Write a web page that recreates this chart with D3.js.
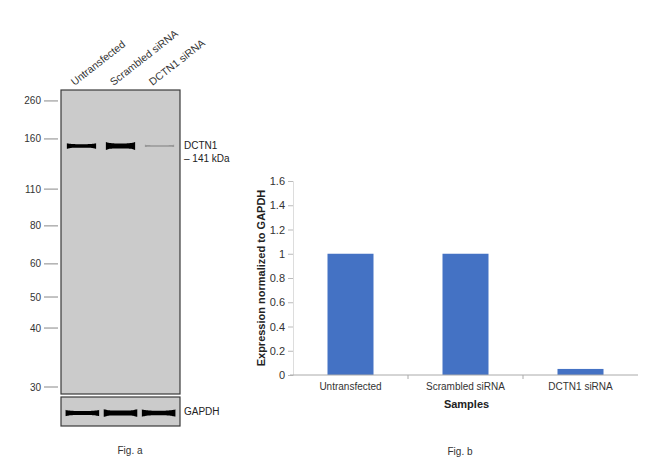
<!DOCTYPE html>
<html><head><meta charset="utf-8">
<script src="https://cdn.jsdelivr.net/npm/d3@7/dist/d3.min.js"></script>
<style>body{margin:0;background:#fff}svg{display:block}text{font-family:"Liberation Sans",Arial,sans-serif}</style>
</head><body><svg id="c" width="650" height="475"></svg>
<script>
// ---- Fig. a (western blot) data ----
const lanes = ["Untransfected", "Scrambled siRNA", "DCTN1 siRNA"];
const markerKDa = [260, 160, 110, 80, 60, 50, 40, 30];
const markerRf = [0.036, 0.161, 0.326, 0.447, 0.572, 0.681, 0.783, 0.977]; // migration fraction
const dctn1Rf = 0.184;
const dctn1Intensity = [0.6, 0.95, 0.12];
const gapdhIntensity = [0.7, 0.9, 0.85];
// ---- Fig. b (bar chart) data ----
const samples = ["Untransfected", "Scrambled siRNA", "DCTN1 siRNA"];
const expression = [1.0, 1.0, 0.05];
const yTicks = [0, 0.2, 0.4, 0.6, 0.8, 1, 1.2, 1.4, 1.6];
const yTickLabels = ["0", "0.2", "0.4", "0.6", "0.8", "1", "1.2", "1.4", "1.6"];

const svg = d3.select("#c");
const defs = svg.append("defs");
defs.append("filter").attr("id","blur").append("feGaussianBlur").attr("stdDeviation",0.5);

// ===== Blot =====
const bx0 = 61, bx1 = 180, by0 = 90, by1 = 394, gy0 = 397, gy1 = 426;
const lane = d3.scaleBand().domain(lanes).range([bx0, bx1]).paddingInner(0.25).paddingOuter(0.15);
const laneG = d3.scaleBand().domain(lanes).range([bx0, bx1]).paddingInner(0.12).paddingOuter(0.12);
const rf = d3.scaleLinear().domain([0, 1]).range([by0, by1]);
const inten = d3.scaleLinear().domain([0, 1]).range([1.2, 7]);
const shade = d3.scaleLinear().domain([0, 0.2, 0.45]).range(["#c9c9c9", "#777", "#000"]).clamp(true);

svg.append("rect").attr("x", bx0).attr("y", by0).attr("width", bx1 - bx0).attr("height", by1 - by0)
  .attr("fill", "#cbcbcb").attr("stroke", "#3a3a3a").attr("stroke-width", 1.2);
svg.append("rect").attr("x", bx0).attr("y", gy0).attr("width", bx1 - bx0).attr("height", gy1 - gy0)
  .attr("fill", "#cbcbcb").attr("stroke", "#3a3a3a").attr("stroke-width", 1.2);

// markers
const mk = svg.append("g");
markerKDa.forEach((k, i) => {
  const yy = rf(markerRf[i]);
  mk.append("line").attr("x1", 44).attr("x2", 58).attr("y1", yy).attr("y2", yy).attr("stroke", "#888").attr("stroke-width", 1);
  mk.append("text").attr("x", 41).attr("y", yy).attr("dy", "0.35em").attr("text-anchor", "end")
    .attr("font-size", 10).attr("fill", "#333").text(k);
});

// bands (thicker ends, like the blot)
function band(sc, i, cy, val, g) {
  const x0 = sc(lanes[i]), w = sc.bandwidth();
  const h = inten(val);
  const pts = d3.range(0, 1.0001, 0.05);
  const prof = t => h * (0.75 + 0.45 * Math.pow(Math.abs(2 * t - 1), 4)) / 2;
  const area = d3.area().x(t => x0 + t * w).y0(t => cy - prof(t)).y1(t => cy + prof(t)).curve(d3.curveBasis);
  g.append("path").attr("d", area(pts)).attr("fill", shade(val)).attr("filter", "url(#blur)");
}
const bg = svg.append("g");
const dy = rf(dctn1Rf);
dctn1Intensity.forEach((v, i) => band(lane, i, dy, v, bg));
const gy = (gy0 + gy1) / 2 + 1.5;
gapdhIntensity.forEach((v, i) => band(laneG, i, gy, v, bg));

// lane labels
lanes.forEach((l, i) => {
  const x = lane(l) + lane.bandwidth() / 2 - 7;
  svg.append("text").attr("transform", `translate(${x},86) rotate(-38)`)
    .attr("font-size", 10.5).attr("fill", "#333").text(l);
});
svg.append("text").attr("x", 184).attr("y", dy + 3).attr("font-size", 10).attr("fill", "#222").text("DCTN1");
svg.append("text").attr("x", 184).attr("y", dy + 16).attr("font-size", 10).attr("fill", "#222").text("– 141 kDa");
svg.append("text").attr("x", 184).attr("y", gy + 2).attr("font-size", 10).attr("fill", "#222").text("GAPDH");
svg.append("text").attr("x", 130).attr("y", 454).attr("text-anchor", "middle").attr("font-size", 10).attr("fill", "#333").text("Fig. a");

// ===== Bar chart =====
const px0 = 293, px1 = 638, py0 = 375, py1 = 181;
const x = d3.scaleBand().domain(samples).range([px0, px1]).paddingInner(0.6).paddingOuter(0.3);
const y = d3.scaleLinear().domain([0, 1.6]).range([py0, py1]);

const ya = svg.append("g").attr("transform", `translate(${px0},0)`)
  .call(d3.axisLeft(y).tickValues(yTicks).tickFormat((d, i) => yTickLabels[i]).tickSize(5).tickPadding(3));
ya.select(".domain").attr("stroke", "#ddd");
ya.selectAll(".tick line").attr("stroke", "#bbb");
ya.selectAll(".tick text").attr("font-size", 11).attr("fill", "#333").attr("font-family", "Liberation Sans, Arial, sans-serif");

svg.append("g").selectAll("rect").data(samples).join("rect")
  .attr("x", d => x(d)).attr("width", x.bandwidth())
  .attr("y", (d, i) => y(expression[i])).attr("height", (d, i) => y(0) - y(expression[i]))
  .attr("fill", "#4472c4");

const xa = svg.append("g").attr("transform", `translate(0,${py0})`)
  .call(d3.axisBottom(x).tickSize(0).tickPadding(8));
xa.select(".domain").remove();
xa.selectAll(".tick text").attr("font-size", 10).attr("fill", "#333").attr("font-family", "Liberation Sans, Arial, sans-serif");
svg.append("line").attr("x1", px0 - 3).attr("x2", px1).attr("y1", py0).attr("y2", py0).attr("stroke", "#aaa");
const step = x.step();
d3.range(1, samples.length).forEach(k => {
  const xx = px0 + step * k;
  svg.append("line").attr("x1", xx).attr("x2", xx).attr("y1", py0).attr("y2", py0 + 4).attr("stroke", "#aaa");
});
svg.append("text").attr("x", (px0 + px1) / 2 + 1).attr("y", 408).attr("text-anchor", "middle")
  .attr("font-size", 11).attr("font-weight", "bold").attr("fill", "#222").text("Samples");
svg.append("text").attr("transform", `translate(265,${(py0 + py1) / 2}) rotate(-90)`).attr("text-anchor", "middle")
  .attr("font-size", 11).attr("font-weight", "bold").attr("fill", "#222").text("Expression normalized to GAPDH");
svg.append("text").attr("x", 460).attr("y", 455).attr("text-anchor", "middle").attr("font-size", 10).attr("fill", "#333").text("Fig. b");
</script></body></html>
